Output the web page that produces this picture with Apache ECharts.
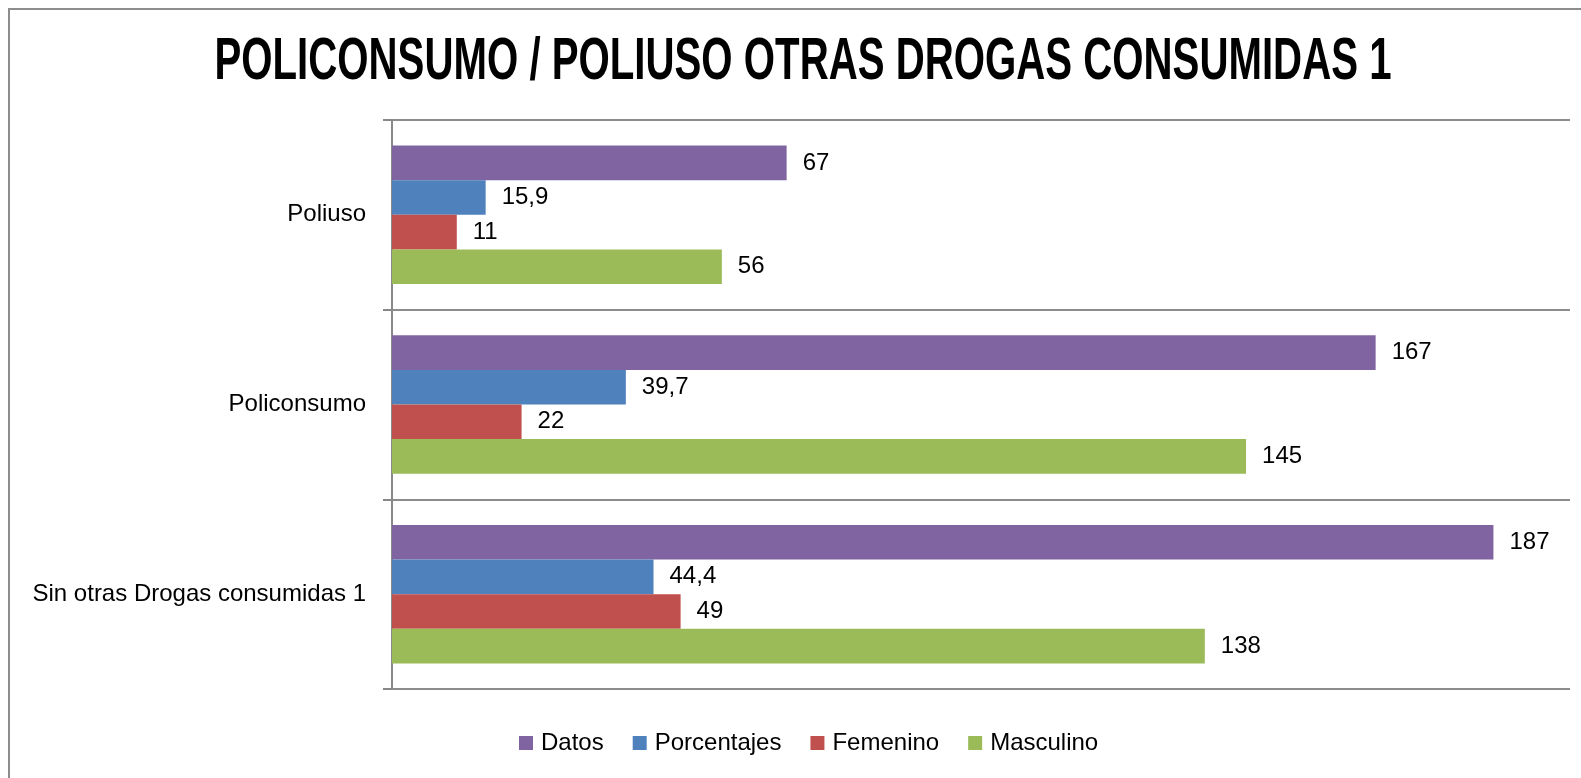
<!DOCTYPE html>
<html>
<head>
<meta charset="utf-8">
<script src="https://cdn.jsdelivr.net/npm/echarts@6/dist/echarts.min.js"></script>
<style>
  html, body { margin: 0; padding: 0; background: #fff; }
  #chart { width: 1581px; height: 778px; }
</style>
</head>
<body>
<div id="chart"></div>
<script>
// categories, top to bottom
var categories = ['Poliuso', 'Policonsumo', 'Sin otras Drogas consumidas 1'];
var seriesNames = ['Datos', 'Porcentajes', 'Femenino', 'Masculino'];
var datos = [67, 167, 187];
var porcentajes = [15.9, 39.7, 44.4];
var femenino = [11, 22, 49];
var masculino = [56, 145, 138];
var colors = ['#8064A2', '#4F81BD', '#C0504D', '#9BBB59'];
var titleText = 'POLICONSUMO / POLIUSO OTRAS DROGAS CONSUMIDAS 1';

var font = '"Liberation Sans", Arial, sans-serif';

function makeSeries(name, values, color) {
    return {
        name: name,
        type: 'bar',
        data: values,
        barGap: 0,
        barCategoryGap: '27%',
        itemStyle: { color: color },
        label: {
            show: true,
            position: 'right',
            distance: 16,
            color: '#000',
            fontFamily: font,
            fontSize: 24,
            formatter: function (p) { return String(p.value).replace('.', ','); }
        }
    };
}

var chart = echarts.init(document.getElementById('chart'));
chart.setOption({
    animation: false,
    legend: {
        data: seriesNames,
        top: 726,
        left: 514,
        itemWidth: 14,
        itemHeight: 14,
        itemGap: 29,
        icon: 'rect',
        textStyle: { fontFamily: font, fontSize: 24, color: '#000', padding: [0, 0, 0, 3] }
    },
    grid: { left: 392, right: 11, top: 120, bottom: 89, containLabel: false },
    xAxis: {
        type: 'value',
        min: 0,
        max: 200,
        show: false
    },
    yAxis: {
        type: 'category',
        data: categories,
        inverse: true,
        axisLine: { show: true, lineStyle: { color: '#888', width: 2 } },
        axisTick: { show: true, length: 9, lineStyle: { color: '#888', width: 2 } },
        splitLine: { show: true, lineStyle: { color: '#8c8c8c', width: 2 } },
        axisLabel: { margin: 26, fontFamily: font, fontSize: 24, color: '#000' }
    },
    graphic: [{
        type: 'rect',
        shape: { x: 9, y: 9, width: 1600, height: 800 },
        style: { fill: 'none', stroke: '#8d8d8d', lineWidth: 2 },
        silent: true
    }, {
        // condensed bold title
        type: 'text',
        x: 803,
        y: 62,
        scaleX: 0.67,
        style: {
            text: titleText,
            fontFamily: font,
            fontWeight: 'bold',
            fontSize: 60,
            fill: '#000',
            align: 'center',
            verticalAlign: 'middle'
        }
    }],
    series: [
        makeSeries('Datos', datos, colors[0]),
        makeSeries('Porcentajes', porcentajes, colors[1]),
        makeSeries('Femenino', femenino, colors[2]),
        makeSeries('Masculino', masculino, colors[3])
    ]
});
</script>
</body>
</html>
